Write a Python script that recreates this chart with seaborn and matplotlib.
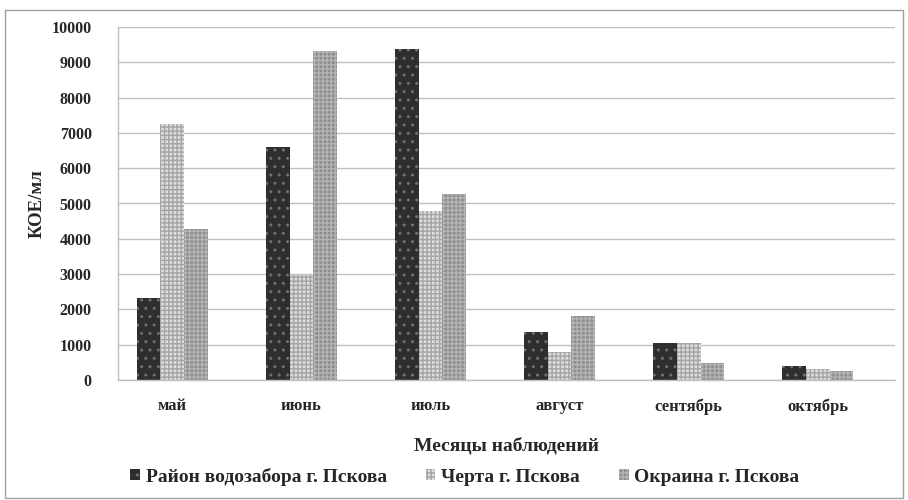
import pandas as pd
import matplotlib.pyplot as plt
import seaborn as sns
from matplotlib.patches import Rectangle

months = ["май", "июнь", "июль", "август", "сентябрь", "октябрь"]
series = ["Район водозабора г. Пскова", "Черта г. Пскова", "Окраина г. Пскова"]
vodozabor = [2330, 6610, 9390, 1350, 1040, 390]
cherta = [7250, 2980, 4800, 790, 1040, 300]
okraina = [4280, 9320, 5270, 1820, 480, 255]

rows = []
for name, vals in zip(series, [vodozabor, cherta, okraina]):
    for m, v in zip(months, vals):
        rows.append({"month": m, "series": name, "value": v})
df = pd.DataFrame(rows)

sns.set_style("white")
plt.rcParams["font.family"] = ["Liberation Serif", "DejaVu Serif"]
plt.rcParams["font.weight"] = "bold"
plt.rcParams["hatch.linewidth"] = 1.0

fig = plt.figure(figsize=(9.08, 5.0), dpi=100)
ax = fig.add_axes([0.130, 0.24, 0.856, 0.706])

sns.barplot(data=df, x="month", y="value", hue="series", order=months,
            hue_order=series, width=0.55, ax=ax, legend=False)

styles = [("#2e2e2e", "#707070", ".."),
          ("#dcdcdc", "#a4a4a4", "++++"),
          ("#8e8e8e", "#b4b4b4", "++++")]
for cont, (fc, hc, h) in zip(ax.containers, styles):
    for p in cont:
        p.set_facecolor(fc)
        p.set_edgecolor(hc)
        p.set_hatch(h)
        p.set_linewidth(0)

ax.set_ylim(0, 10000)
ax.set_xlim(-0.42, 5.6)
ax.set_yticks(range(0, 10001, 1000))
ax.yaxis.grid(True, color="#bfbfbf", lw=1)
ax.set_axisbelow(True)
for s in ["top", "right"]:
    ax.spines[s].set_visible(False)
for s in ["left", "bottom"]:
    ax.spines[s].set_color("#bfbfbf")
    ax.spines[s].set_linewidth(1)
ax.tick_params(axis="y", length=0, pad=19, labelsize=11.5)
ax.tick_params(axis="x", length=0, pad=13, labelsize=12)
for t in ax.get_xticklabels() + ax.get_yticklabels():
    t.set_fontweight("bold")

ax.set_xlabel("Месяцы наблюдений", fontsize=14, fontweight="bold", labelpad=16)
ax.set_ylabel("КОЕ/мл", fontsize=13.5, fontweight="bold", labelpad=4)

handles = [Rectangle((0, 0), 1, 1, facecolor=fc, edgecolor=hc, hatch=h, lw=0)
           for fc, hc, h in styles]
fig.legend(handles, series, loc="center", bbox_to_anchor=(0.512, 0.047), ncol=3,
           frameon=False, handlelength=0.5, handleheight=0.5, handletextpad=0.3,
           columnspacing=2.0, prop={"size": 14, "weight": "bold"})

fig.patches.append(Rectangle((0.006, 0.004), 0.988, 0.976, transform=fig.transFigure,
                             fill=False, edgecolor="#a0a0a0", lw=1))

fig.savefig("out.png", dpi=100)
